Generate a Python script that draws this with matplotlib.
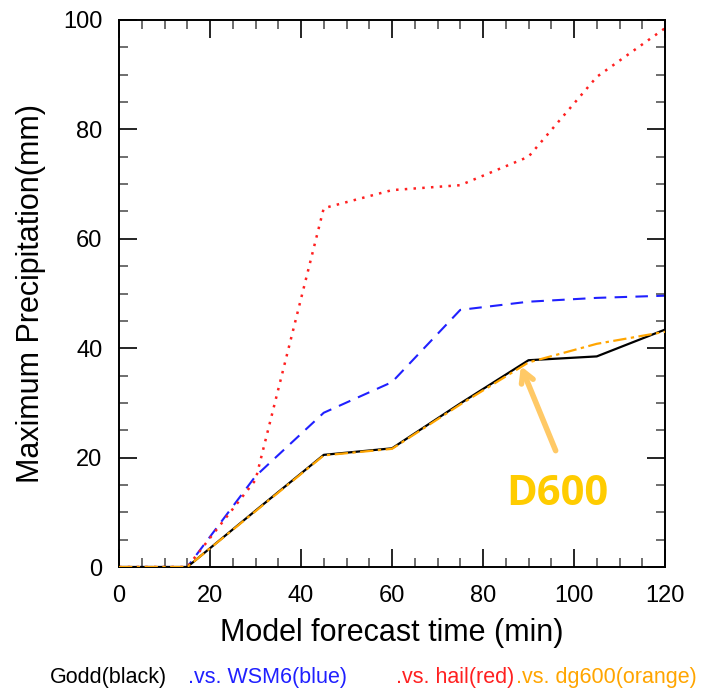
import matplotlib.pyplot as plt
from matplotlib.ticker import MultipleLocator

plt.rcParams['font.family'] = ['Liberation Sans', 'DejaVu Sans']

# forecast time (min) and max precipitation (mm) per scheme
time = [0, 15, 30, 45, 60, 75, 90, 105, 120]
godd = [0, 0, 10.3, 20.5, 21.7, 29.9, 37.8, 38.5, 43.4]
wsm6 = [0, 0, 16.6, 28.2, 33.8, 47.0, 48.5, 49.2, 49.6]
hail = [0, 0, 15.9, 65.6, 68.9, 69.8, 75.0, 89.6, 98.5]
dg600 = [0, 0, 10.2, 20.4, 21.6, 29.7, 37.4, 40.8, 43.0]

fig = plt.figure(figsize=(7.06, 6.89), dpi=100)
ax = fig.add_axes([119/706, 1-567/689, 546/706, 547/689])

ax.plot(time, godd, color='black', lw=1.6, ls='-', zorder=3)
ax.plot(time, wsm6, color='#2020ff', lw=1.5, ls=(0, (6, 4)), zorder=2)
ax.plot(time, hail, color='#ff2020', lw=1.8, ls=(0, (1, 2.5)), zorder=2)
ax.plot(time, dg600, color='orange', lw=1.6, ls=(0, (6, 2, 1.5, 2)), zorder=4)

ax.set_xlim(0, 120)
ax.set_ylim(0, 100)
ax.xaxis.set_major_locator(MultipleLocator(20))
ax.xaxis.set_minor_locator(MultipleLocator(5))
ax.yaxis.set_major_locator(MultipleLocator(20))
ax.yaxis.set_minor_locator(MultipleLocator(5))
ax.tick_params(which='both', direction='in', top=True, right=True, width=1.2)
ax.tick_params(which='major', length=13, labelsize=17)
ax.tick_params(which='minor', length=6.5, color='#555555')
ax.tick_params(axis='x', which='major', pad=13)
ax.tick_params(axis='y', which='major', pad=12)
for s in ax.spines.values():
    s.set_linewidth(1.4)

ax.set_xlabel('Model forecast time (min)', fontsize=22, labelpad=8)
ax.set_ylabel('Maximum Precipitation(mm)', fontsize=22, labelpad=12)

# annotation arrow and label
ax.annotate('', xy=(88.1, 37.2), xytext=(96.2, 20.8),
            arrowprops=dict(arrowstyle='->,head_length=0.8,head_width=0.45',
                            color='#ffc966', lw=4))
ax.text(96.3, 13.3, 'D600', color='#ffcc00', fontsize=30, fontweight='bold',
        ha='center', va='center', family=['Open Sans', 'DejaVu Sans'])

# bottom title pieces
fy = 1 - 677/689
fig.text(50/706, fy, 'Godd(black)', color='black', fontsize=15.5, va='center')
fig.text(188/706, fy, '.vs. WSM6(blue)', color='#2020ff', fontsize=15.5, va='center')
fig.text(396/706, fy, '.vs. hail(red)', color='#ff2020', fontsize=15.5, va='center')
fig.text(516/706, fy, '.vs. dg600(orange)', color='orange', fontsize=15.5, va='center')

fig.savefig('out.png', dpi=100)
